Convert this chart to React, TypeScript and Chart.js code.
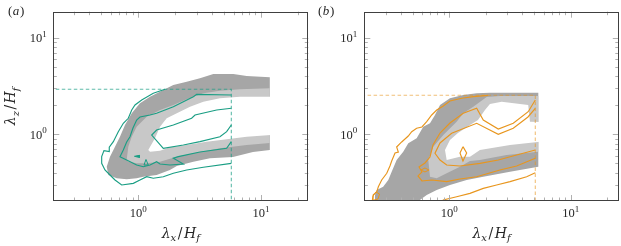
import React, { useEffect, useRef } from 'react';
import { Chart, registerables } from 'chart.js';

Chart.register(...registerables);

// ---------------- Panel (a) data ----------------
const aOuterBandX = [0.570, 0.553, 0.588, 0.646, 0.709, 0.779, 0.884, 1.032, 1.246, 1.599, 1.929, 2.48, 3.18, 4.09, 5.95, 7.65, 11.8, 11.8, 8.6, 5.91, 3.84, 2.81, 2.06, 1.81, 1.41, 1.098, 0.970, 0.804, 0.667];
const aOuterBandY = [0.379, 0.462, 0.587, 0.745, 0.944, 1.248, 1.649, 2.093, 2.448, 2.871, 3.236, 3.50, 3.79, 4.20, 4.20, 4.01, 3.88, 0.688, 0.656, 0.582, 0.565, 0.521, 0.470, 0.427, 0.379, 0.364, 0.351, 0.343, 0.351];
const aMidBandX = [0.804, 0.829, 0.884, 0.970, 1.171, 1.503, 1.93, 2.48, 3.39, 4.63, 6.74, 11.8, 11.8, 7.65, 4.63, 2.81, 2.06, 1.503, 1.171, 0.970, 0.829];
const aMidBandY = [0.542, 0.745, 0.944, 1.198, 1.52, 1.784, 2.01, 2.30, 2.655, 2.82, 2.92, 2.99, 0.811, 0.775, 0.717, 0.636, 0.587, 0.521, 0.501, 0.501, 0.521];
const aCoreX = [1.206, 1.368, 1.503, 1.704, 2.06, 2.64, 3.39, 4.63, 6.74, 12, 12, 7.65, 5.25, 3.61, 2.48, 1.813, 1.503, 1.246];
const aCoreY = [0.688, 0.909, 1.198, 1.464, 1.649, 1.93, 2.17, 2.36, 2.45, 2.45, 0.983, 0.944, 0.888, 0.839, 0.775, 0.734, 0.677, 0.661];

const aLevel1X = [1.651, 1.325, 1.066, 0.940, 0.884, 0.829, 0.755, 0.687, 0.626, 0.580, 0.580, 0.525, 0.503, 0.503, 0.535, 0.588, 0.646, 0.732, 0.911, 1.032, 1.171, 1.325, 1.599, 1.93, 2.48, 3.39, 5.73];
const aLevel1Y = [2.92, 2.655, 2.263, 2.01, 1.784, 1.464, 1.299, 1.064, 0.839, 0.734, 0.661, 0.677, 0.587, 0.501, 0.427, 0.379, 0.337, 0.299, 0.311, 0.337, 0.364, 0.351, 0.364, 0.395, 0.427, 0.456, 0.501];
const aLevel2X = [5.73, 2.99, 2.81, 1.93, 1.651, 1.41, 1.246, 1.032, 0.970, 0.905, 0.856, 0.804, 0.755, 0.709, 0.804, 0.970, 1.098, 1.246, 1.41, 1.503, 1.813, 2.33, 1.93, 2.12, 3.18, 5.25, 5.73];
const aLevel2Y = [2.55, 2.59, 2.45, 1.93, 1.784, 1.649, 1.584, 1.51, 1.406, 1.162, 0.944, 0.833, 0.688, 0.587, 0.542, 0.481, 0.462, 0.481, 0.521, 0.493, 0.481, 0.493, 0.565, 0.587, 0.656, 0.717, 0.84];
const aLevel3X = [5.73, 4.35, 2.90, 2.72, 1.93, 1.41, 1.286, 1.599, 2.33, 3.18, 4.63, 5.25, 5.73];
const aLevel3Y = [1.857, 1.784, 1.584, 1.464, 1.248, 1.108, 0.983, 0.717, 0.775, 0.839, 0.944, 1.064, 1.248];
const aBlob1X = [0.931, 1.023, 1.023, 0.931];
const aBlob1Y = [0.592, 0.606, 0.575, 0.592];
const aBlob2X = [1.155, 1.113, 1.206, 1.155];
const aBlob2Y = [0.549, 0.481, 0.481, 0.549];
const aBoxX = [0.19, 5.73, 5.73];
const aBoxY = [2.92, 2.92, 0.19];

// ---------------- Panel (b) data ----------------
const bOuterBandX = [0.245, 0.245, 0.253, 0.286, 0.315, 0.336, 0.369, 0.418, 0.460, 0.539, 0.611, 0.694, 0.763, 0.839, 1.013, 1.303, 1.680, 2.16, 5.40, 5.40, 3.16, 1.904, 1.390, 1.013, 0.788, 0.652, 0.574, 0.55];
const bOuterBandY = [0.19, 0.236, 0.265, 0.287, 0.337, 0.410, 0.542, 0.661, 0.807, 0.909, 1.198, 1.299, 1.584, 2.01, 2.36, 2.55, 2.655, 2.69, 2.69, 0.462, 0.410, 0.364, 0.337, 0.299, 0.265, 0.236, 0.209, 0.19];
const bMidBandX = [0.694, 0.672, 0.739, 0.893, 1.150, 1.303, 1.576, 2.03, 2.61, 5.40, 5.40, 2.96, 1.788, 1.480, 1.225, 0.952, 0.788];
const bMidBandY = [0.364, 0.542, 0.745, 0.983, 1.350, 1.649, 1.93, 2.43, 2.49, 2.49, 0.661, 0.611, 0.542, 0.530, 0.462, 0.395, 0.351];
const bCoreX = [2.70, 4.46, 4.61, 5.57, 5.57, 3.16, 1.788, 1.480, 1.225, 0.952, 0.922, 1.013, 1.179, 1.480, 1.722, 1.966, 2.16];
const bCoreY = [2.17, 2.01, 1.350, 1.34, 0.839, 0.775, 0.688, 0.587, 0.587, 0.542, 0.688, 0.873, 1.031, 1.248, 1.406, 1.784, 2.06];

const bLevel1aX = [0.230, 0.237, 0.253, 0.261, 0.278, 0.306, 0.325, 0.336, 0.358, 0.381, 0.369, 0.406, 0.460, 0.491, 0.539, 0.596, 0.652, 0.717, 0.788, 0.893, 1.013, 1.265, 1.576, 2.08];
const bLevel1aY = [0.19, 0.236, 0.253, 0.287, 0.337, 0.395, 0.470, 0.530, 0.641, 0.656, 0.739, 0.833, 0.960, 1.064, 1.154, 1.190, 1.350, 1.584, 1.784, 1.962, 2.21, 2.36, 2.45, 2.53];
const bLevel1bX = [0.893, 0.893, 1.150, 1.480, 1.904, 2.45, 3.16, 4.33, 5.1];
const bLevel1bY = [0.19, 0.209, 0.226, 0.245, 0.276, 0.299, 0.324, 0.364, 0.401];
const bLevel2X = [5.1, 4.46, 3.36, 2.53, 1.904, 1.680, 1.303, 1.013, 0.839, 0.734, 0.694, 0.631, 0.564, 0.596, 0.553, 0.596, 0.720, 0.952, 1.225, 1.680, 2.61, 3.58, 5.1];
const bLevel2Y = [2.26, 1.713, 1.299, 1.134, 1.406, 1.857, 1.649, 1.309, 1.031, 0.775, 0.582, 0.505, 0.459, 0.408, 0.371, 0.329, 0.337, 0.324, 0.345, 0.364, 0.427, 0.470, 0.565];
const bLevel3X = [5.1, 4.44, 3.36, 2.53, 1.680, 1.046, 0.839, 0.763, 0.839, 0.952, 1.225, 1.788, 2.53, 3.58, 5.1];
const bLevel3Y = [1.857, 1.510, 1.154, 1.0, 1.299, 1.024, 0.813, 0.636, 0.542, 0.481, 0.470, 0.501, 0.542, 0.611, 0.688];
const bDiamondX = [1.296, 1.390, 1.296, 1.225, 1.296];
const bDiamondY = [0.745, 0.641, 0.530, 0.641, 0.745];
const bLoopX = [0.585, 0.631, 0.681, 0.631, 0.585];
const bLoopY = [0.427, 0.448, 0.427, 0.408, 0.427];
const bHookX = [0.236, 0.249, 0.267, 0.259, 0.240, 0.236];
const bHookY = [0.230, 0.253, 0.241, 0.214, 0.209, 0.230];
const bBoxX = [0.19, 5.1, 5.1];
const bBoxY = [2.53, 2.53, 0.19];

// ---------------- ticks ----------------
const MAJOR_TICKS = [1, 10];
const X_MINOR_TICKS = [0.3, 0.4, 0.5, 0.6, 0.7, 0.8, 0.9, 2, 3, 4, 5, 6, 7, 8, 9, 20];
const Y_MINOR_TICKS = [0.3, 0.4, 0.5, 0.6, 0.7, 0.8, 0.9, 2, 3, 4, 5, 6, 7, 8, 9];

// ---------------- styles ----------------
const DARK_GRAY = '#a6a6a6';
const LIGHT_GRAY = '#c8c8c8';
const TEAL = '#1a9e84';
const TEAL_DASH = 'rgba(26,158,132,0.7)';
const ORANGE = '#e8961e';
const ORANGE_DASH = 'rgba(232,150,30,0.6)';
const TEXT = '#262626';

const pts = (xs: number[], ys: number[]) => xs.map((x, i) => ({ x, y: ys[i] }));

const area = (xs: number[], ys: number[], color: string, order: number) => ({
  data: pts(xs, ys),
  fill: 'shape',
  backgroundColor: color,
  borderColor: 'rgba(0,0,0,0)',
  borderWidth: 0,
  pointRadius: 0,
  order,
});

const curve = (xs: number[], ys: number[], color: string, opts: any = {}) => ({
  data: pts(xs, ys),
  fill: opts.fill ? 'shape' : false,
  backgroundColor: color,
  borderColor: color,
  borderWidth: opts.width ?? 1.15,
  borderDash: opts.dash ?? [],
  pointRadius: 0,
  order: opts.order ?? 1,
});

type Part = { t: string; sub?: boolean; gap?: number; upright?: boolean };

function drawParts(ctx: CanvasRenderingContext2D, parts: Part[], x0: number, base: number, size: number, subSize: number) {
  let x = x0;
  for (const p of parts) {
    const sz = p.sub ? subSize : size;
    ctx.font = `${p.upright ? '' : 'italic '}${sz}px "DejaVu Serif", serif`;
    x += p.gap ?? 0;
    ctx.fillText(p.t, x, base + (p.sub ? size * 0.25 : 0));
    x += ctx.measureText(p.t).width + (p.gap ?? 0);
  }
  return x - x0;
}
function partsWidth(ctx: CanvasRenderingContext2D, parts: Part[], size: number, subSize: number) {
  let w = 0;
  for (const p of parts) {
    const sz = p.sub ? subSize : size;
    ctx.font = `${p.upright ? '' : 'italic '}${sz}px "DejaVu Serif", serif`;
    w += ctx.measureText(p.t).width + 2 * (p.gap ?? 0);
  }
  return w;
}

function makeDecor(label: string, showYTitle: boolean, yLabelGap: number) {
  return {
    id: 'decor',
    afterDraw(chart: any) {
      const { ctx, chartArea: a, scales } = chart;
      const sx = scales.x;
      const sy = scales.y;
      ctx.save();
      // inward ticks on all four sides
      ctx.lineWidth = 1;
      ctx.strokeStyle = '#b0b0b0';
      const inRange = (s: any, v: number) => v > s.min * 1.01 && v < s.max / 1.01;
      const xt = (vals: number[], len: number) => {
        for (const v of vals) {
          if (!inRange(sx, v)) continue;
          const p = Math.round(sx.getPixelForValue(v)) + 0.5;
          ctx.beginPath();
          ctx.moveTo(p, a.bottom); ctx.lineTo(p, a.bottom - len);
          ctx.moveTo(p, a.top); ctx.lineTo(p, a.top + len);
          ctx.stroke();
        }
      };
      const yt = (vals: number[], len: number) => {
        for (const v of vals) {
          if (!inRange(sy, v)) continue;
          const p = Math.round(sy.getPixelForValue(v)) + 0.5;
          ctx.beginPath();
          ctx.moveTo(a.left, p); ctx.lineTo(a.left + len, p);
          ctx.moveTo(a.right, p); ctx.lineTo(a.right - len, p);
          ctx.stroke();
        }
      };
      xt(X_MINOR_TICKS, 3.5); xt(MAJOR_TICKS, 6);
      yt(Y_MINOR_TICKS, 3.5); yt(MAJOR_TICKS, 6);

      // frame
      ctx.strokeStyle = '#404040';
      const L = Math.round(a.left) + 0.5, T = Math.round(a.top) + 0.5;
      const R = Math.round(a.right) - 0.5, B = Math.round(a.bottom) - 0.5;
      ctx.strokeRect(L, T, R - L, B - T);

      // tick labels 10^k
      ctx.fillStyle = TEXT;
      ctx.textBaseline = 'alphabetic';
      ctx.textAlign = 'left';
      const big = '12.5px "Liberation Serif", serif';
      const small = '9px "Liberation Serif", serif';
      for (const v of MAJOR_TICKS) {
        const e = String(Math.round(Math.log10(v)));
        ctx.font = big; const w1 = ctx.measureText('10').width;
        ctx.font = small; const w2 = ctx.measureText(e).width;
        if (inRange(sx, v)) {
          const px = sx.getPixelForValue(v);
          const s = px - (w1 + w2) / 2;
          ctx.font = big; ctx.fillText('10', s, 217);
          ctx.font = small; ctx.fillText(e, s + w1, 211.5);
        }
        if (inRange(sy, v)) {
          const py = sy.getPixelForValue(v);
          const s = a.left - yLabelGap - (w1 + w2);
          ctx.font = big; ctx.fillText('10', s, py + 4.3);
          ctx.font = small; ctx.fillText(e, s + w1, py - 1);
        }
      }

      // x title
      const size = 14, subSize = 10;
      const xParts: Part[] = [{ t: 'λ' }, { t: 'x', sub: true }, { t: '/', upright: true, gap: 1.5 }, { t: 'H' }, { t: 'f', sub: true }];
      const wx = partsWidth(ctx, xParts, size, subSize);
      drawParts(ctx, xParts, (a.left + a.right) / 2 - wx / 2, 237.5, size, subSize);

      if (showYTitle) {
        const yParts: Part[] = [{ t: 'λ' }, { t: 'z', sub: true }, { t: '/', upright: true, gap: 1.5 }, { t: 'H' }, { t: 'f', sub: true }];
        const wy = partsWidth(ctx, yParts, size, subSize);
        ctx.save();
        ctx.translate(15, (a.top + a.bottom) / 2);
        ctx.rotate(-Math.PI / 2);
        drawParts(ctx, yParts, -wy / 2, 0, size, subSize);
        ctx.restore();
      }

      // panel label
      ctx.font = '13px "Liberation Serif", serif';
      ctx.fillText('(', 8, 15);
      const wp = ctx.measureText('(').width;
      ctx.font = 'italic 13px "Liberation Serif", serif';
      ctx.fillText(label, 8 + wp + 0.5, 15);
      const wl = ctx.measureText(label).width;
      ctx.font = '13px "Liberation Serif", serif';
      ctx.fillText(')', 8 + wp + wl + 1.2, 15);
      ctx.restore();
    },
  };
}

function Panel(props: { width: number; left: number; cfg: any }) {
  const ref = useRef<HTMLCanvasElement>(null);
  useEffect(() => {
    const c = props.cfg;
    const chart = new Chart(ref.current as HTMLCanvasElement, {
      type: 'line',
      data: { datasets: c.datasets },
      options: {
        responsive: false,
        animation: false,
        events: [],
        layout: { padding: c.padding },
        plugins: { legend: { display: false }, tooltip: { enabled: false } },
        scales: {
          x: { type: 'logarithmic', min: c.xMin, max: c.xMax, display: false },
          y: { type: 'logarithmic', min: c.yMin, max: c.yMax, display: false },
        },
      },
      plugins: [makeDecor(c.label, c.showYTitle, c.yLabelGap)],
    } as any);
    return () => chart.destroy();
  }, []);
  return (
    <canvas
      ref={ref}
      width={props.width}
      height={246}
      style={{ position: 'absolute', left: props.left, top: 0, width: props.width, height: 246 }}
    />
  );
}

const panelA = {
  label: 'a',
  showYTitle: true,
  yLabelGap: 6.5,
  xMin: 0.2029, xMax: 24.3, yMin: 0.2042, yMax: 18.53,
  padding: { left: 53.3, right: 1.7, top: 11.7, bottom: 45 },
  datasets: [
    curve(aLevel1X, aLevel1Y, TEAL),
    curve(aLevel2X, aLevel2Y, TEAL),
    curve(aLevel3X, aLevel3Y, TEAL),
    curve(aBlob1X, aBlob1Y, TEAL, { fill: true, width: 1 }),
    curve(aBlob2X, aBlob2Y, TEAL, { width: 1 }),
    curve(aBoxX, aBoxY, TEAL_DASH, { dash: [3.5, 2.5], width: 1.1, order: 2 }),
    area(aCoreX, aCoreY, '#ffffff', 8),
    area(aMidBandX, aMidBandY, LIGHT_GRAY, 9),
    area(aOuterBandX, aOuterBandY, DARK_GRAY, 10),
  ],
};

const panelB = {
  label: 'b',
  showYTitle: false,
  yLabelGap: 7,
  xMin: 0.2, xMax: 24.8, yMin: 0.2042, yMax: 18.53,
  padding: { left: 54.3, right: 2.2, top: 11.7, bottom: 45 },
  datasets: [
    curve(bLevel1aX, bLevel1aY, ORANGE),
    curve(bLevel1bX, bLevel1bY, ORANGE),
    curve(bLevel2X, bLevel2Y, ORANGE),
    curve(bLevel3X, bLevel3Y, ORANGE),
    curve(bDiamondX, bDiamondY, ORANGE),
    curve(bLoopX, bLoopY, ORANGE, { width: 1 }),
    curve(bHookX, bHookY, ORANGE, { width: 1 }),
    curve(bBoxX, bBoxY, ORANGE_DASH, { dash: [3.5, 2.5], width: 1.1, order: 2 }),
    area(bCoreX, bCoreY, '#ffffff', 8),
    area(bMidBandX, bMidBandY, LIGHT_GRAY, 9),
    area(bOuterBandX, bOuterBandY, DARK_GRAY, 10),
  ],
};

export default function App() {
  return (
    <div style={{ position: 'fixed', left: 0, top: 0, width: 621, height: 246, background: '#ffffff', overflow: 'hidden' }}>
      <Panel width={310} left={0} cfg={panelA} />
      <Panel width={311} left={310} cfg={panelB} />
    </div>
  );
}
